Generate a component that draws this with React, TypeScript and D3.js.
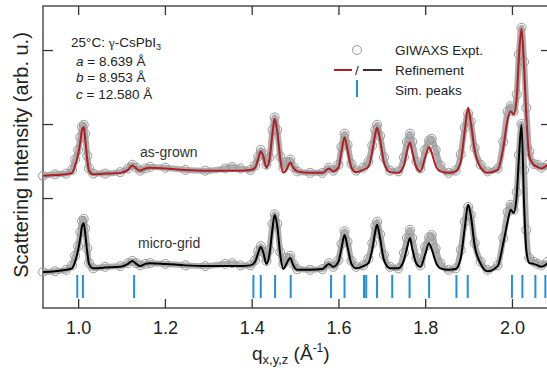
import { useEffect, useRef } from "react"
import * as d3 from "d3"

// q grid shared by all four profiles (Å^-1)
const qValues = [
  0.919, 0.947, 0.972, 0.986, 0.993, 1.0, 1.005, 1.009, 1.013, 1.016, 1.021, 1.025, 1.035,
  1.062, 1.097, 1.115, 1.125, 1.134, 1.143, 1.155, 1.166, 1.201, 1.247, 1.293,
  1.339, 1.355, 1.374, 1.397, 1.408, 1.415, 1.421, 1.427, 1.434,
  1.441, 1.448, 1.453, 1.459, 1.466, 1.473, 1.48, 1.489, 1.496, 1.505,
  1.535, 1.563, 1.578, 1.588, 1.6, 1.607, 1.614, 1.621, 1.63, 1.641,
  1.657, 1.669, 1.678, 1.685, 1.689, 1.696, 1.705, 1.719, 1.738,
  1.751, 1.758, 1.765, 1.77, 1.78, 1.789, 1.8, 1.809, 1.815, 1.824, 1.835,
  1.854, 1.87, 1.882, 1.891, 1.899, 1.905, 1.914, 1.928, 1.944, 1.967,
  1.98, 1.99, 1.997, 2.004, 2.011, 2.016, 2.022, 2.028, 2.033, 2.04, 2.05, 2.059, 2.068, 2.082,
]

const asGrownExpt = [
  0.0, 0.02, 0.03, 0.08, 0.22, 0.35, 0.52, 0.66, 0.69, 0.57, 0.27, 0.1, 0.03,
  0.03, 0.05, 0.1, 0.15, 0.11, 0.07, 0.1, 0.12, 0.11, 0.08, 0.07,
  0.1, 0.12, 0.1, 0.08, 0.14, 0.26, 0.35, 0.29, 0.15,
  0.25, 0.62, 0.79, 0.62, 0.26, 0.11, 0.18, 0.22, 0.12, 0.06,
  0.04, 0.04, 0.11, 0.07, 0.15, 0.39, 0.57, 0.42, 0.16, 0.07,
  0.11, 0.19, 0.41, 0.62, 0.69, 0.54, 0.25, 0.07, 0.06,
  0.25, 0.46, 0.57, 0.46, 0.19, 0.1, 0.35, 0.48, 0.5, 0.35, 0.14,
  0.04, 0.07, 0.29, 0.65, 0.84, 0.73, 0.38, 0.15, 0.06, 0.1,
  0.46, 0.87, 0.94, 0.87, 1.1, 1.64, 2.0, 1.54, 0.92, 0.33, 0.16, 0.15, 0.11, 0.15,
]

const asGrownFit = [
  0.0, 0.01, 0.02, 0.04, 0.14, 0.29, 0.46, 0.62, 0.66, 0.52, 0.22, 0.07, 0.02,
  0.03, 0.04, 0.08, 0.14, 0.1, 0.07, 0.1, 0.11, 0.1, 0.08, 0.07,
  0.07, 0.07, 0.07, 0.08, 0.11, 0.23, 0.33, 0.26, 0.11,
  0.22, 0.58, 0.77, 0.6, 0.22, 0.04, 0.08, 0.18, 0.11, 0.06,
  0.04, 0.04, 0.1, 0.06, 0.11, 0.33, 0.52, 0.35, 0.11, 0.05,
  0.08, 0.12, 0.33, 0.57, 0.65, 0.49, 0.18, 0.05, 0.04,
  0.14, 0.33, 0.45, 0.33, 0.11, 0.06, 0.25, 0.39, 0.31, 0.14, 0.06,
  0.04, 0.06, 0.19, 0.6, 0.92, 0.73, 0.35, 0.11, 0.04, 0.08,
  0.38, 0.76, 0.87, 0.83, 1.06, 1.6, 1.99, 1.46, 0.83, 0.26, 0.15, 0.12, 0.1, 0.15,
]

const microGridExpt = [
  0.0, 0.01, 0.03, 0.09, 0.22, 0.35, 0.54, 0.69, 0.72, 0.59, 0.32, 0.12, 0.05,
  0.07, 0.08, 0.12, 0.15, 0.12, 0.09, 0.11, 0.12, 0.11, 0.09, 0.08,
  0.11, 0.12, 0.09, 0.09, 0.16, 0.28, 0.35, 0.27, 0.15,
  0.3, 0.65, 0.78, 0.65, 0.27, 0.11, 0.19, 0.22, 0.11, 0.04,
  0.03, 0.04, 0.12, 0.07, 0.16, 0.38, 0.55, 0.41, 0.15, 0.07,
  0.09, 0.18, 0.39, 0.62, 0.68, 0.51, 0.23, 0.07, 0.05,
  0.26, 0.46, 0.57, 0.46, 0.19, 0.09, 0.34, 0.47, 0.5, 0.32, 0.12,
  0.03, 0.05, 0.3, 0.68, 0.88, 0.77, 0.39, 0.14, 0.03, 0.09,
  0.46, 0.81, 0.91, 0.84, 1.08, 1.58, 2.0, 1.38, 0.57, 0.19, 0.14, 0.11, 0.09, 0.14,
]

const microGridFit = [
  0.0, 0.01, 0.03, 0.05, 0.14, 0.3, 0.46, 0.62, 0.66, 0.54, 0.27, 0.11, 0.05,
  0.06, 0.07, 0.11, 0.15, 0.11, 0.08, 0.11, 0.12, 0.11, 0.09, 0.08,
  0.08, 0.08, 0.08, 0.09, 0.14, 0.26, 0.34, 0.26, 0.11,
  0.24, 0.59, 0.77, 0.62, 0.23, 0.04, 0.11, 0.19, 0.09, 0.03,
  0.03, 0.04, 0.11, 0.07, 0.14, 0.32, 0.5, 0.34, 0.11, 0.05,
  0.08, 0.12, 0.31, 0.55, 0.64, 0.46, 0.16, 0.05, 0.05,
  0.16, 0.32, 0.46, 0.32, 0.11, 0.07, 0.24, 0.39, 0.31, 0.14, 0.05,
  0.03, 0.04, 0.19, 0.59, 0.91, 0.77, 0.36, 0.11, 0.01, 0.08,
  0.39, 0.68, 0.84, 0.8, 1.04, 1.54, 1.99, 0.91, 0.3, 0.12, 0.11, 0.09, 0.07, 0.12,
]

// simulated Bragg peak positions
const simPeaks = [
  0.998, 1.011, 1.129, 1.404, 1.421, 1.454, 1.49, 1.583, 1.614, 1.659, 1.664,
  1.689, 1.724, 1.764, 1.809, 1.872, 1.898, 2.0, 2.024, 2.054, 2.077,
]

const xTicks = [1.0, 1.2, 1.4, 1.6, 1.8, 2.0]
const yTicks = [1, 2, 3]
const asGrownOffset = 1.3
const lattice = [
  ["a", "8.639"],
  ["b", "8.953"],
  ["c", "12.580"],
]

const FONT = "'Liberation Sans', Arial, sans-serif"

export default function App() {
  const svgRef = useRef<SVGSVGElement | null>(null)

  useEffect(() => {
    if (!svgRef.current) return
    const svg = d3.select(svgRef.current)
    svg.selectAll("*").remove()

    const left = 43
    const right = 551
    const top = 6
    const bottom = 308

    const x = d3.scaleLinear().domain([0.919, 2.09]).range([left, right])
    const y = d3.scaleLinear().domain([-0.486, 3.595]).range([bottom, top])

    const axisColor = "#333"

    // frame
    svg
      .append("rect")
      .attr("x", left)
      .attr("y", top)
      .attr("width", right - left)
      .attr("height", bottom - top)
      .attr("fill", "none")
      .attr("stroke", axisColor)
      .attr("stroke-width", 1.3)

    const styleAxis = (g: any) => {
      g.select(".domain").remove()
      g.selectAll("line").attr("stroke", axisColor).attr("stroke-width", 1.3)
    }

    // bottom axis with labels
    svg
      .append("g")
      .attr("transform", `translate(0,${bottom})`)
      .call(d3.axisBottom(x).tickValues(xTicks).tickSize(-9).tickPadding(13).tickFormat(d3.format(".1f")))
      .call(styleAxis)
      .call((g) => g.selectAll("text").attr("fill", "#222").attr("font-size", 18).attr("font-family", FONT))

    svg
      .append("g")
      .attr("transform", `translate(0,${top})`)
      .call(d3.axisTop(x).tickValues(xTicks).tickSize(-9).tickFormat(() => ""))
      .call(styleAxis)

    svg
      .append("g")
      .attr("transform", `translate(${left},0)`)
      .call(d3.axisLeft(y).tickValues(yTicks).tickSize(-10).tickFormat(() => ""))
      .call(styleAxis)

    svg
      .append("g")
      .attr("transform", `translate(${right},0)`)
      .call(d3.axisRight(y).tickValues(yTicks).tickSize(-10).tickFormat(() => ""))
      .call(styleAxis)

    // profiles: measured points as open circles, refinement as a line
    const drawSample = (expt: number[], fit: number[], offset: number, color: string) => {
      const line = d3
        .line<number>()
        .x((_, i) => x(qValues[i]))
        .y((d) => y(d + offset))
        .curve(d3.curveMonotoneX)

      svg
        .append("path")
        .attr("d", line(expt))
        .attr("fill", "none")
        .attr("stroke", "#adadad")
        .attr("stroke-width", 6)
        .attr("stroke-linejoin", "round")

      svg
        .append("g")
        .selectAll("circle")
        .data(expt)
        .enter()
        .append("circle")
        .attr("cx", (_, i) => x(qValues[i]))
        .attr("cy", (d) => y(d + offset))
        .attr("r", 4.5)
        .attr("fill", "none")
        .attr("stroke", "#999")
        .attr("stroke-width", 1)

      svg
        .append("path")
        .attr("d", line(fit))
        .attr("fill", "none")
        .attr("stroke", color)
        .attr("stroke-width", 2)
        .attr("stroke-linejoin", "round")
    }

    drawSample(asGrownExpt, asGrownFit, asGrownOffset, "#b01e23")
    drawSample(microGridExpt, microGridFit, 0, "#000")

    // simulated peak markers
    svg
      .append("g")
      .selectAll("line")
      .data(simPeaks)
      .enter()
      .append("line")
      .attr("x1", (d) => x(d))
      .attr("x2", (d) => x(d))
      .attr("y1", 275)
      .attr("y2", 298)
      .attr("stroke", "#2490d8")
      .attr("stroke-width", 2)

    // sample labels
    const label = (tx: number, ty: number, s: string) =>
      svg
        .append("text")
        .attr("x", tx)
        .attr("y", ty)
        .attr("font-family", FONT)
        .attr("font-size", 14)
        .attr("fill", "#333")
        .text(s)
    label(140, 157, "as-grown")
    label(138, 248, "micro-grid")

    // phase annotation
    const title = svg
      .append("text")
      .attr("x", 71)
      .attr("y", 47)
      .attr("font-family", FONT)
      .attr("font-size", 13.5)
      .attr("fill", "#222")
    title.append("tspan").text("25°C: ")
    title.append("tspan").attr("font-family", "'Liberation Serif', serif").text("γ")
    title.append("tspan").text("-CsPbI")
    title.append("tspan").attr("font-size", 9).attr("dy", 3).text("3")

    lattice.forEach(([k, v], i) => {
      const t = svg
        .append("text")
        .attr("x", 76)
        .attr("y", 65.5 + i * 16.7)
        .attr("font-family", FONT)
        .attr("font-size", 13.5)
        .attr("fill", "#222")
      t.append("tspan").attr("font-style", "italic").text(k)
      t.append("tspan").text(` = ${v} Å`)
    })

    // legend
    const legend = svg.append("g").attr("font-family", FONT).attr("font-size", 13.5)
    legend.append("circle").attr("cx", 357).attr("cy", 50).attr("r", 4.5).attr("fill", "#fff").attr("stroke", "#999")
    legend.append("text").attr("x", 395).attr("y", 55).attr("fill", "#222").text("GIWAXS Expt.")
    legend.append("line").attr("x1", 334).attr("x2", 352).attr("y1", 70).attr("y2", 70).attr("stroke", "#b01e23").attr("stroke-width", 2)
    legend.append("text").attr("x", 357).attr("y", 74.5).attr("text-anchor", "middle").attr("fill", "#222").text("/")
    legend.append("line").attr("x1", 363).attr("x2", 382).attr("y1", 70).attr("y2", 70).attr("stroke", "#3a2e2e").attr("stroke-width", 2)
    legend.append("text").attr("x", 395).attr("y", 74.5).attr("fill", "#222").text("Refinement")
    legend.append("line").attr("x1", 357).attr("x2", 357).attr("y1", 80).attr("y2", 97).attr("stroke", "#2490d8").attr("stroke-width", 2)
    legend.append("text").attr("x", 395).attr("y", 94.5).attr("fill", "#222").text("Sim. peaks")

    // axis titles
    svg
      .append("text")
      .attr("transform", "translate(28,155) rotate(-90)")
      .attr("text-anchor", "middle")
      .attr("font-family", FONT)
      .attr("font-size", 20)
      .attr("fill", "#222")
      .text("Scattering Intensity (arb. u.)")

    const xl = svg
      .append("text")
      .attr("x", 252)
      .attr("y", 360)
      .attr("font-family", FONT)
      .attr("font-size", 19)
      .attr("fill", "#222")
    xl.append("tspan").text("q")
    xl.append("tspan").attr("font-size", 13).attr("dy", 4).text("x,y,z")
    xl.append("tspan").attr("dy", -4).text(" (Å")
    xl.append("tspan").attr("font-size", 12).attr("dy", -8).text("-1")
    xl.append("tspan").attr("dy", 8).text(")")
  }, [])

  return (
    <svg
      ref={svgRef}
      width={547}
      height={374}
      style={{ position: "absolute", left: 0, top: 0, background: "#fff" }}
    ></svg>
  )
}
